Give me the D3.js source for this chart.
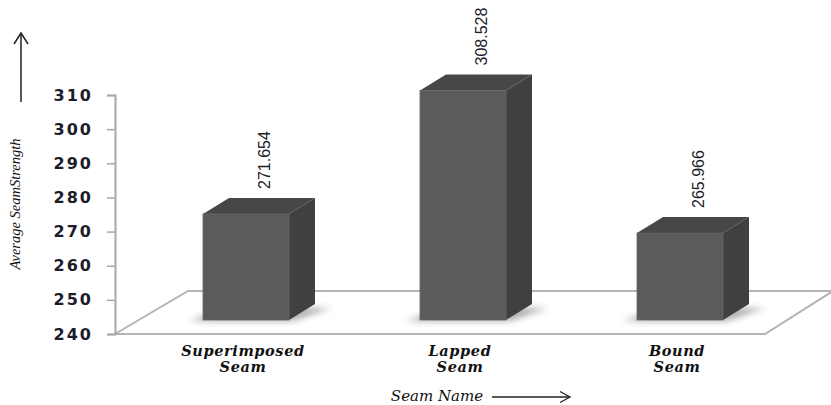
<!DOCTYPE html>
<html>
<head>
<meta charset="utf-8">
<script src="https://cdn.jsdelivr.net/npm/d3@7"></script>
<style>
  html, body { margin: 0; padding: 0; background: #fff; }
  svg { display: block; }
</style>
</head>
<body>
<div id="chart"></div>
<script>
// Average seam strength by seam type
const categories = ["Superimposed Seam", "Lapped Seam", "Bound Seam"];
const categoryLines = [["Superimposed", "Seam"], ["Lapped", "Seam"], ["Bound", "Seam"]];
const strengths = [271.654, 308.528, 265.966];
const valueLabels = ["271.654", "308.528", "265.966"];
const yTicks = [240, 250, 260, 270, 280, 290, 300, 310];

const W = 831, H = 405;
const svg = d3.select("#chart").append("svg").attr("width", W).attr("height", H);

const defs = svg.append("defs");
defs.append("filter").attr("id", "soft").attr("x", "-50%").attr("y", "-50%").attr("width", "200%").attr("height", "200%")
  .append("feGaussianBlur").attr("stdDeviation", 3);

// Axis plane scale (front edge of the floor) and bar plane scale (set back in depth)
const yAxisScale = d3.scaleLinear().domain([240, 310]).range([334, 95]);
const yBar = d3.scaleLinear().domain([240, 310]).range([320, 85.5]);
const xCenter = d3.scalePoint().domain(categories).range([246, 680]);
const barW = 86, depthX = 26, depthY = -16;
const axisX = 115;

// Floor outline
const floor = [[axisX, 334], [188, 291], [840, 291]];
const floorFront = [[axisX, 334], [765, 334], [833, 291]];
const lineGen = d3.line();
svg.append("path").attr("d", lineGen(floor)).attr("fill", "none").attr("stroke", "#b4b4b4").attr("stroke-width", 2);
svg.append("path").attr("d", lineGen(floorFront)).attr("fill", "none").attr("stroke", "#b4b4b4").attr("stroke-width", 2);

// Y axis
const yAxis = d3.axisLeft(yAxisScale).tickValues(yTicks).tickSize(8).tickPadding(14).tickFormat(d3.format("d"));
const gy = svg.append("g").attr("transform", `translate(${axisX},0)`).call(yAxis);
gy.select(".domain").attr("stroke", "#a8a8a8").attr("stroke-width", 2);
gy.selectAll(".tick line").attr("stroke", "#a8a8a8").attr("stroke-width", 1.5);
gy.selectAll(".tick text")
  .attr("fill", "#1c1c2a")
  .style("font-family", "'DejaVu Sans', Verdana, sans-serif")
  .style("font-weight", "bold")
  .style("font-size", "16px")
  .style("letter-spacing", "2px");

// Bars
const bars = svg.append("g");
categories.forEach((c, i) => {
  const v = strengths[i];
  const x0 = xCenter(c) - barW / 2, x1 = x0 + barW;
  const yT = yBar(v), yB = yBar(240);
  const g = bars.append("g");
  // soft base shadow
  g.append("path")
    .attr("d", lineGen([[x0 - 14, yB + 1], [x1 + 4, yB + 1], [x1 + depthX + 16, yB + depthY + 4], [x0 + depthX - 4, yB + depthY + 4]]) + "Z")
    .attr("fill", "#6a6a6a").attr("opacity", 0.55).attr("filter", "url(#soft)");
  // right side
  g.append("path")
    .attr("d", lineGen([[x1, yT], [x1 + depthX, yT + depthY], [x1 + depthX, yB + depthY], [x1, yB]]) + "Z")
    .attr("fill", "#404040");
  // top
  g.append("path")
    .attr("d", lineGen([[x0, yT], [x0 + depthX, yT + depthY], [x1 + depthX, yT + depthY], [x1, yT]]) + "Z")
    .attr("fill", "#474747");
  // front
  g.append("rect").attr("x", x0).attr("y", yT).attr("width", barW).attr("height", yB - yT)
    .attr("fill", "#5b5b5b").attr("stroke", "#666").attr("stroke-width", 0.8);
  // value label
  const lx = xCenter(c) + 18, ly = yT + depthY - 9;
  g.append("text")
    .attr("transform", `translate(${lx},${ly}) rotate(-90)`)
    .attr("text-anchor", "start").attr("dy", "0.35em")
    .style("font-family", "'Liberation Sans Narrow', 'Arial Narrow', sans-serif")
    .style("font-size", "16px")
    .attr("fill", "#1c1c2a")
    .text(valueLabels[i]);
});

// Category labels (two lines each)
const catFont = "'DejaVu Serif', Georgia, serif";
categories.forEach((c, i) => {
  categoryLines[i].forEach((ln, k) => {
    svg.append("text")
      .attr("x", xCenter(c) - 3).attr("y", 356 + k * 16)
      .attr("text-anchor", "middle")
      .style("font-family", catFont).style("font-style", "italic").style("font-weight", "bold")
      .style("font-size", "14.5px").style("letter-spacing", "0.6px").attr("fill", "#111")
      .text(ln);
  });
});

// X axis title with arrow
svg.append("text").attr("x", 437).attr("y", 401).attr("text-anchor", "middle")
  .style("font-family", catFont).style("font-style", "italic").style("font-size", "15px")
  .attr("fill", "#111").text("Seam Name");
svg.append("line").attr("x1", 492).attr("y1", 397).attr("x2", 570).attr("y2", 397).attr("stroke", "#222").attr("stroke-width", 1.3);
svg.append("path").attr("d", "M560,391.5 L570,397 L560,402.5").attr("fill", "none").attr("stroke", "#222").attr("stroke-width", 1.3);

// Y axis title with arrow
svg.append("text").attr("transform", "translate(20,204) rotate(-90)").attr("text-anchor", "middle")
  .style("font-family", "'Liberation Serif', 'Times New Roman', serif").style("font-style", "italic")
  .style("font-size", "14.5px").attr("fill", "#111").text("Average SeamStrength");
svg.append("line").attr("x1", 21).attr("y1", 102).attr("x2", 21).attr("y2", 33).attr("stroke", "#222").attr("stroke-width", 1.5);
svg.append("path").attr("d", "M14,44 L21,33 L28,44").attr("fill", "none").attr("stroke", "#222").attr("stroke-width", 1.5);
</script>
</body>
</html>
